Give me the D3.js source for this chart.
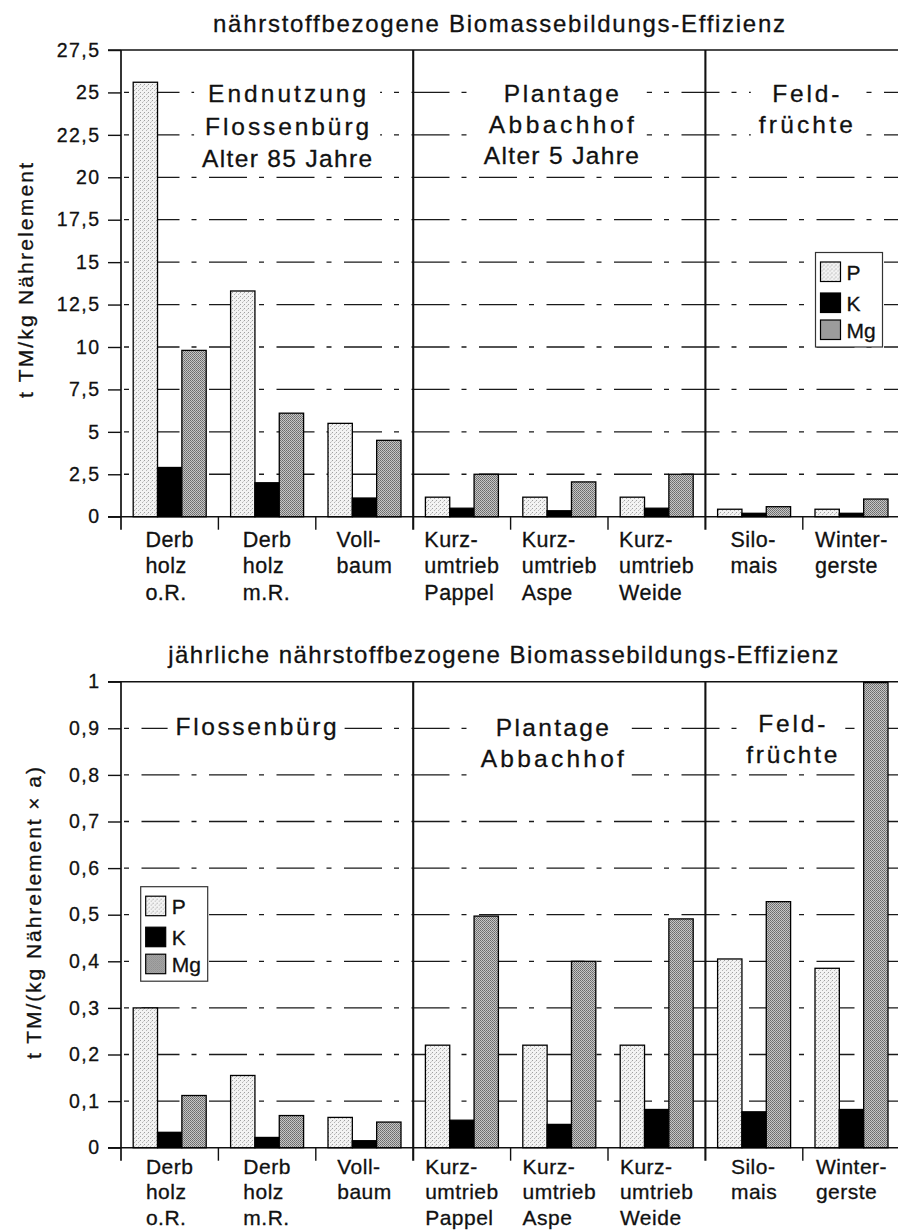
<!DOCTYPE html>
<html><head><meta charset="utf-8">
<script src="https://cdn.jsdelivr.net/npm/d3@7"></script>
<style>
body{margin:0;background:#fff}
svg{display:block}
text{font-family:"Liberation Sans", Arial, Helvetica, sans-serif; fill:#111; stroke:#111; stroke-width:0.3px}
</style>
</head><body>
<svg id="c" width="898" height="1231"></svg>
<script>
// ---------------- data ----------------
const categories = ["Derb\nholz\no.R.", "Derb\nholz\nm.R.", "Voll-\nbaum", "Kurz-\numtrieb\nPappel", "Kurz-\numtrieb\nAspe", "Kurz-\numtrieb\nWeide", "Silo-\nmais", "Winter-\ngerste"];
const seriesNames = ["P", "K", "Mg"];

// nährstoffbezogene Biomassebildungs-Effizienz (t TM/kg Nährelement)
const pTotal  = [25.6, 13.3, 5.5, 1.15, 1.15, 1.15, 0.44, 0.44];
const kTotal  = [2.9, 2.0, 1.1, 0.5, 0.35, 0.5, 0.2, 0.2];
const mgTotal = [9.8, 6.1, 4.5, 2.5, 2.05, 2.5, 0.59, 1.04];

// jährliche nährstoffbezogene Biomassebildungs-Effizienz (t TM/(kg Nährelement x a))
const pAnnual  = [0.30, 0.155, 0.065, 0.22, 0.22, 0.22, 0.405, 0.385];
const kAnnual  = [0.033, 0.022, 0.015, 0.059, 0.05, 0.082, 0.077, 0.082];
const mgAnnual = [0.112, 0.069, 0.055, 0.497, 0.40, 0.491, 0.528, 0.998];

const topTicks = [0, 2.5, 5, 7.5, 10, 12.5, 15, 17.5, 20, 22.5, 25, 27.5];
const topTickLabels = ["0", "2,5", "5", "7,5", "10", "12,5", "15", "17,5", "20", "22,5", "25", "27,5"];
const bottomTicks = [0, 0.1, 0.2, 0.3, 0.4, 0.5, 0.6, 0.7, 0.8, 0.9, 1];
const bottomTickLabels = ["0", "0,1", "0,2", "0,3", "0,4", "0,5", "0,6", "0,7", "0,8", "0,9", "1"];

const sectionStarts = [3, 6];
const topTitle = "nährstoffbezogene Biomassebildungs-Effizienz";
const bottomTitle = "jährliche nährstoffbezogene Biomassebildungs-Effizienz";
const topYLabel = "t TM/kg Nährelement";
const bottomYLabel = "t TM/(kg Nährelement × a)";
const topSections = [["Endnutzung", "Flossenbürg", "Alter 85 Jahre"], ["Plantage", "Abbachhof", "Alter 5 Jahre"], ["Feld-", "früchte"]];
const bottomSections = [["Flossenbürg"], ["Plantage", "Abbachhof"], ["Feld-", "früchte"]];

// ---------------- layout ----------------
const X0 = 121, CAT_W = 97.4, XR = X0 + CAT_W * categories.length;
const panels = [
  { ymax: 27.5, yTop: 50, y0: 516.7, ticks: topTicks, tickLabels: topTickLabels,
    values: [pTotal, kTotal, mgTotal], title: topTitle, titleY: 32, titleCx: 499, titleLen: 572,
    ylab: topYLabel, ylabX: 32.5, ylabLen: 235, ylabCy: 280.5,
    sections: topSections,
    secLayout: [ {dx: 20, base: [102, 134.5, 166.5], len: [158, 164, 170]},
                 {dx: 2, base: [102, 132.5, 164], len: [115, 145, 155]},
                 {dx: 3, base: [102, 132.5], len: [67, 94]} ],
    legend: {x: 815.5, y: 252.5}, xlabOff: 30, xlabStep: 26.7, xlabSize: 21.5 },
  { ymax: 1, yTop: 681.7, y0: 1147.7, ticks: bottomTicks, tickLabels: bottomTickLabels,
    values: [pAnnual, kAnnual, mgAnnual], title: bottomTitle, titleY: 663, titleCx: 503.3, titleLen: 670,
    ylab: bottomYLabel, ylabX: 41, ylabLen: 292, ylabCy: 913,
    sections: bottomSections,
    secLayout: [ {dx: -11, base: [735], len: [161]},
                 {dx: -7, base: [736, 767], len: [113, 143]},
                 {dx: -11, base: [732, 763], len: [67, 91]} ],
    legend: {x: 140.7, y: 886.7}, xlabOff: 26, xlabStep: 25.6, xlabSize: 21 }
];

const svg = d3.select("#c");
const defs = svg.append("defs");
// stipple patterns
const pp = defs.append("pattern").attr("id", "patP").attr("patternUnits", "userSpaceOnUse").attr("width", 4).attr("height", 4);
pp.append("rect").attr("width", 4).attr("height", 4).attr("fill", "#f3f3f3");
pp.append("rect").attr("x", 0).attr("y", 0).attr("width", 1).attr("height", 1).attr("fill", "#a0a0a0");
pp.append("rect").attr("x", 2).attr("y", 2).attr("width", 1).attr("height", 1).attr("fill", "#b4b4b4");
pp.append("rect").attr("x", 3).attr("y", 1).attr("width", 1).attr("height", 1).attr("fill", "#d0d0d0");
const pm = defs.append("pattern").attr("id", "patMg").attr("patternUnits", "userSpaceOnUse").attr("width", 2).attr("height", 2);
pm.append("rect").attr("width", 2).attr("height", 2).attr("fill", "#c6c6c6");
pm.append("rect").attr("x", 0).attr("y", 0).attr("width", 1).attr("height", 1).attr("fill", "#6a6a6a");
pm.append("rect").attr("x", 1).attr("y", 1).attr("width", 1).attr("height", 1).attr("fill", "#7a7a7a");
const fills = {P: "url(#patP)", K: "#000", Mg: "url(#patMg)"};

const x = d3.scaleBand().domain(d3.range(categories.length)).range([X0, XR]).padding(0);
const xs = d3.scaleBand().domain(seriesNames).range([12.2, 85.2]).padding(0);

panels.forEach(pn => {
  const y = d3.scaleLinear().domain([0, pn.ymax]).range([pn.y0, pn.yTop]);
  const g = svg.append("g");

  // dashed grid lines
  const inner = pn.ticks.filter(t => t > 0 && t < pn.ymax);
  g.selectAll("line.grid").data(inner).join("line").attr("class", "grid")
    .attr("x1", X0).attr("x2", XR).attr("y1", d => y(d)).attr("y2", d => y(d))
    .attr("stroke", "#1a1a1a").attr("stroke-width", 1.3)
    .attr("stroke-dasharray", "38,12,5,12.5").attr("stroke-dashoffset", 47);
  // top border and zero line
  [pn.ymax, 0].forEach(v => {
    g.append("line").attr("x1", X0 - 13).attr("x2", XR).attr("y1", y(v)).attr("y2", y(v))
      .attr("stroke", "#111").attr("stroke-width", 1.4);
  });

  // y axis with outside ticks
  const yAxis = d3.axisLeft(y).tickValues(pn.ticks).tickFormat((d, i) => pn.tickLabels[i]).tickSize(13).tickPadding(9);
  const ga = g.append("g").attr("transform", `translate(${X0},0)`).call(yAxis);
  ga.select(".domain").remove();
  ga.attr("font-size", null).attr("font-family", null);
  ga.selectAll(".tick line").attr("stroke", "#111").attr("stroke-width", 1.4);
  ga.selectAll(".tick text").style("font-size", "19.5px").attr("letter-spacing", 1.4)
    .attr("fill", "#111").attr("dx", 1.4);

  // text block backgrounds + section labels
  pn.sections.forEach((lines, si) => {
    const s0 = si === 0 ? 0 : sectionStarts[si - 1];
    const s1 = si < sectionStarts.length ? sectionStarts[si] : categories.length;
    const cx = (x(s0) + (s1 < categories.length ? x(s1) : XR)) / 2 + pn.secLayout[si].dx;
    const L = pn.secLayout[si];
    const maxLen = d3.max(L.len);
    g.append("rect").attr("x", cx - maxLen / 2 - 8).attr("width", maxLen + 16)
      .attr("y", L.base[0] - 22).attr("height", L.base[L.base.length - 1] + 9 - (L.base[0] - 22))
      .attr("fill", "#fff");
    lines.forEach((t, li) => {
      g.append("text").attr("x", cx).attr("y", L.base[li]).attr("text-anchor", "middle")
        .style("font-size", "24.5px").attr("textLength", L.len[li]).attr("lengthAdjust", "spacing").text(t);
    });
  });

  // bars
  seriesNames.forEach((s, si) => {
    g.selectAll("rect.bar-" + s).data(pn.values[si]).join("rect").attr("class", "bar-" + s)
      .attr("x", (d, i) => x(i) + xs(s)).attr("width", xs.bandwidth())
      .attr("y", d => y(d)).attr("height", d => y(0) - y(d))
      .attr("fill", fills[s]).attr("stroke", "#000").attr("stroke-width", 1.3);
  });

  // vertical axis + section separators + category ticks
  g.append("line").attr("x1", X0).attr("x2", X0).attr("y1", pn.yTop).attr("y2", pn.y0 + 13)
    .attr("stroke", "#111").attr("stroke-width", 1.7);
  d3.range(1, categories.length).forEach(i => {
    const isSec = sectionStarts.includes(i);
    g.append("line").attr("x1", x(i)).attr("x2", x(i))
      .attr("y1", isSec ? pn.yTop : pn.y0).attr("y2", pn.y0 + 13)
      .attr("stroke", "#111").attr("stroke-width", isSec ? 2.1 : 1.4);
  });

  // category labels (lines left-aligned, block centered)
  categories.forEach((c, i) => {
    const lines = c.split("\n");
    const cxc = x(i) + x.bandwidth() / 2;
    const ts = lines.map((t, li) => g.append("text").attr("y", pn.y0 + pn.xlabOff + li * pn.xlabStep)
      .style("font-size", pn.xlabSize + "px").attr("letter-spacing", 0.5).text(t));
    const w = d3.max(ts, t => t.node().getComputedTextLength());
    ts.forEach(t => t.attr("x", cxc - w / 2));
  });

  // title
  g.append("text").attr("x", pn.titleCx).attr("y", pn.titleY).attr("text-anchor", "middle")
    .style("font-size", "24px").attr("textLength", pn.titleLen).attr("lengthAdjust", "spacing").text(pn.title);
  // y label
  g.append("text").attr("transform", `translate(${pn.ylabX},${pn.ylabCy}) rotate(-90)`)
    .attr("text-anchor", "middle").style("font-size", "21px")
    .attr("textLength", pn.ylabLen).attr("lengthAdjust", "spacing").text(pn.ylab);

  // legend
  const lg = g.append("g").attr("transform", `translate(${pn.legend.x},${pn.legend.y})`);
  lg.append("rect").attr("width", 67).attr("height", 94.5).attr("fill", "#fff").attr("stroke", "#333").attr("stroke-width", 1.2);
  const rowsY = [9.5, 40.5, 67.5];
  seriesNames.forEach((s, si) => {
    lg.append("rect").attr("x", 5).attr("y", rowsY[si]).attr("width", 20).attr("height", 19.5)
      .attr("fill", fills[s]).attr("stroke", "#000").attr("stroke-width", 1.2);
    lg.append("text").attr("x", 31).attr("y", rowsY[si] + 17.5).style("font-size", "21px").text(s);
  });
});
</script>
</body></html>
